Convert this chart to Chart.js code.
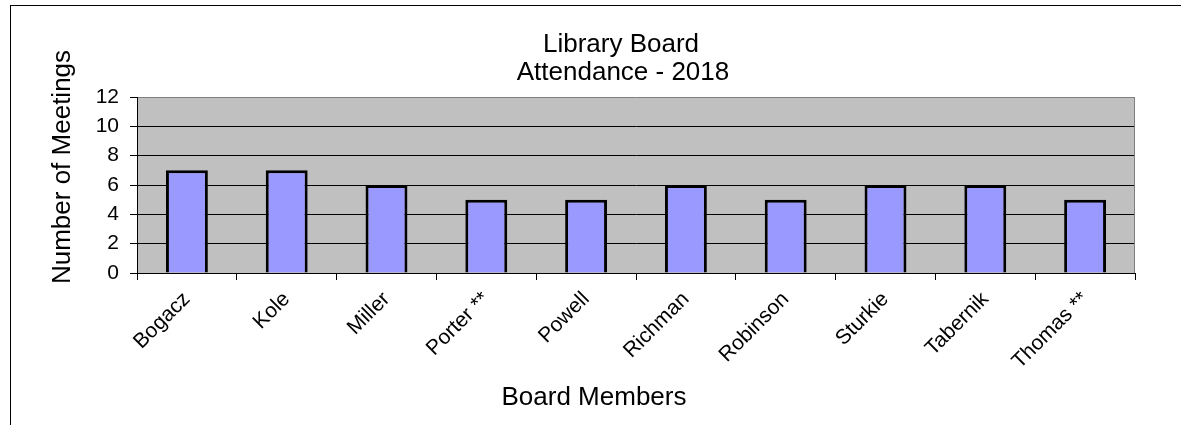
<!DOCTYPE html>
<html>
<head>
<meta charset="utf-8">
<title>Library Board Attendance - 2018</title>
<script src="https://cdn.jsdelivr.net/npm/chart.js@4/dist/chart.umd.min.js"></script>
<style>
  html, body { margin: 0; padding: 0; background: #fff; }
  #wrap { width: 1181px; height: 425px; }
</style>
</head>
<body>
<div id="wrap"><canvas id="attendanceChart" width="1181" height="425"></canvas></div>
<script>
var members = ['Bogacz', 'Kole', 'Miller', 'Porter **', 'Powell', 'Richman', 'Robinson', 'Sturkie', 'Tabernik', 'Thomas **'];
var meetings = [7, 7, 6, 5, 5, 6, 5, 6, 6, 5];
var yMax = 12;
var yStep = 2;
var titleLines = ['Library Board', 'Attendance - 2018'];
var xTitle = 'Board Members';
var yTitle = 'Number of Meetings';

var FONT = '"Liberation Sans", Arial, sans-serif';

// frame, plot background and the hand-placed titles
var decor = {
  id: 'decor',
  beforeDraw: function(chart) {
    var c = chart.ctx, a = chart.chartArea;
    c.save();
    c.fillStyle = '#fff';
    c.fillRect(0, 0, chart.width, chart.height);
    c.strokeStyle = '#000';
    c.lineWidth = 1;
    c.strokeRect(10.5, 5.5, chart.width + 20, chart.height + 20);
    c.fillStyle = '#c0c0c0';
    c.fillRect(a.left, a.top, a.right - a.left, a.bottom - a.top);
    c.restore();
  },
  afterDraw: function(chart) {
    var c = chart.ctx, a = chart.chartArea;
    c.save();
    c.strokeStyle = '#808080';
    c.lineWidth = 1;
    c.beginPath();
    c.moveTo(Math.round(a.right) - 0.5, a.top);
    c.lineTo(Math.round(a.right) - 0.5, a.bottom);
    c.stroke();

    c.fillStyle = '#000';
    c.font = '26px ' + FONT;
    c.textAlign = 'center';
    c.textBaseline = 'alphabetic';
    c.fillText(titleLines[0], 621, 52);
    c.fillText(titleLines[1], 623, 80);
    c.fillText(xTitle, 594, 405);

    c.translate(70, 167);
    c.rotate(-Math.PI / 2);
    c.fillText(yTitle, 0, 0);
    c.restore();
  }
};

var ctx = document.getElementById('attendanceChart').getContext('2d');

var chart = new Chart(ctx, {
  type: 'bar',
  data: {
    labels: members,
    datasets: [
      {
        label: 'Meetings',
        data: meetings,
        backgroundColor: '#9999ff',
        borderColor: '#000',
        borderWidth: 3,
        barPercentage: 0.42,
        categoryPercentage: 1
      }
    ]
  },
  options: {
    responsive: false,
    animation: false,
    devicePixelRatio: 1,
    layout: {
      padding: { left: 0, right: 46, top: 97, bottom: 0 }
    },
    plugins: {
      legend: { display: false },
      title: { display: false },
      tooltip: { enabled: false }
    },
    scales: {
      x: {
        afterFit: function(scale) { scale.height = 152; },
        grid: {
          offset: true,
          drawOnChartArea: false,
          drawTicks: true,
          tickLength: 7,
          color: '#000'
        },
        border: { display: true, color: '#000', width: 1 },
        ticks: {
          maxRotation: 45,
          minRotation: 45,
          padding: 7,
          color: '#000',
          font: { family: FONT, size: 21 }
        }
      },
      y: {
        min: 0,
        max: yMax,
        afterFit: function(scale) { scale.width = 137; },
        grid: {
          color: function(c) { return c.tick && c.tick.value === yMax ? '#808080' : '#000'; },
          tickColor: '#000',
          tickLength: 7,
          lineWidth: 1
        },
        border: { display: true, color: '#000', width: 1 },
        ticks: {
          stepSize: yStep,
          padding: 11,
          color: '#000',
          font: { family: FONT, size: 21 }
        }
      }
    }
  },
  plugins: [decor]
});
</script>
</body>
</html>
